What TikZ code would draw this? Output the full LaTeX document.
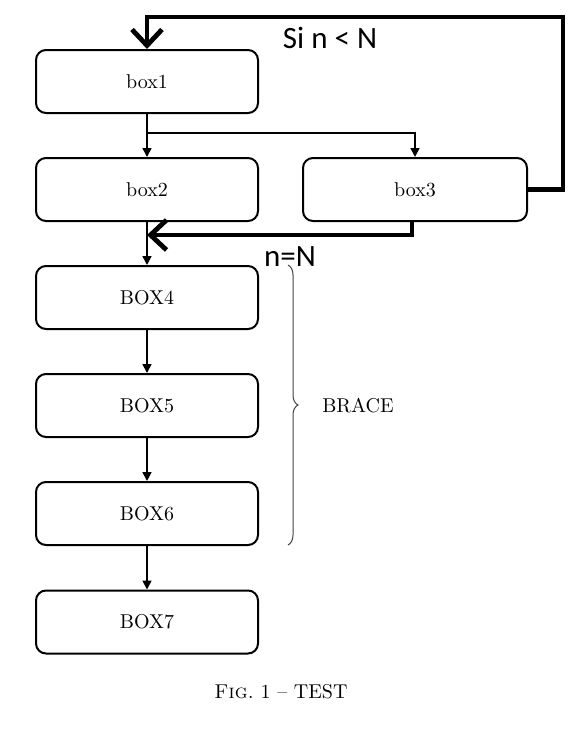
\documentclass[tikz,border=0pt]{standalone}
\usepackage{fontspec}
\newfontfamily\handfont{Carlito}
\usetikzlibrary{arrows.meta,decorations.pathreplacing,calc}
\begin{document}
\begin{tikzpicture}[x=0.5pt,y=-0.5pt,
  boxnode/.style={draw, line width=1pt, rounded corners=5pt, minimum width=111pt, minimum height=31.5pt, inner sep=0pt, font=\fontsize{10}{12}\selectfont},
  thinarrow/.style={line width=0.85pt, -{Triangle[length=4.5pt,width=4.5pt]}},
  thickarrow/.style={line width=2.4pt, -{Straight Barb[length=8pt,width=15pt]}},
  handlabel/.style={font=\handfont\fontsize{15.5}{18}\selectfont, inner sep=0pt},
  bracestyle/.style={decorate, decoration={brace, amplitude=5pt}, line width=0.5pt, draw=black!75}]
\useasboundingbox (0,0) rectangle (586,756);
% boxes
\node[boxnode] (b1) at (147,81.5) {box1};
\node[boxnode] (b2) at (147,189.5) {box2};
\node[boxnode, minimum width=112pt] (b3) at (415,189.5) {box3};
\node[boxnode] (b4) at (147,297.5) {BOX4};
\node[boxnode] (b5) at (147,405.5) {BOX5};
\node[boxnode] (b6) at (147,513.5) {BOX6};
\node[boxnode] (b7) at (147,622) {BOX7};
% thin arrows
\coordinate (split) at (147,133);
\draw[thinarrow] (b1.south) -- (b2.north);
\draw[thinarrow] (split) -| (b3.north);
\draw[thinarrow] (b2.south) -- (b4.north);
\draw[thinarrow] (b4.south) -- (b5.north);
\draw[thinarrow] (b5.south) -- (b6.north);
\draw[thinarrow] (b6.south) -- (b7.north);
% thick loop
\coordinate (tr) at (563,17);
\coordinate (tl) at (147,17);
\draw[thickarrow] (b3.east) -| (tr) -- (tl) -- (b1.north);
% thick return
\coordinate (ret) at (147,235);
\draw[thickarrow] ([xshift=-1.5pt]b3.south) |- (ret);
% labels
\node[handlabel] (l1) at (330,38) {Si n < N};
\node[handlabel] (l2) at (290,257) {n=N};
% brace
\coordinate (bt) at (288,265);
\coordinate (bb) at (288,545);
\draw[bracestyle] (bt) -- (bb);
\node (brl) at (358,406) {BRACE};
% caption
\node (cap) at (281,692) {\textsc{Fig.}~1 -- TEST};
\end{tikzpicture}
\end{document}
